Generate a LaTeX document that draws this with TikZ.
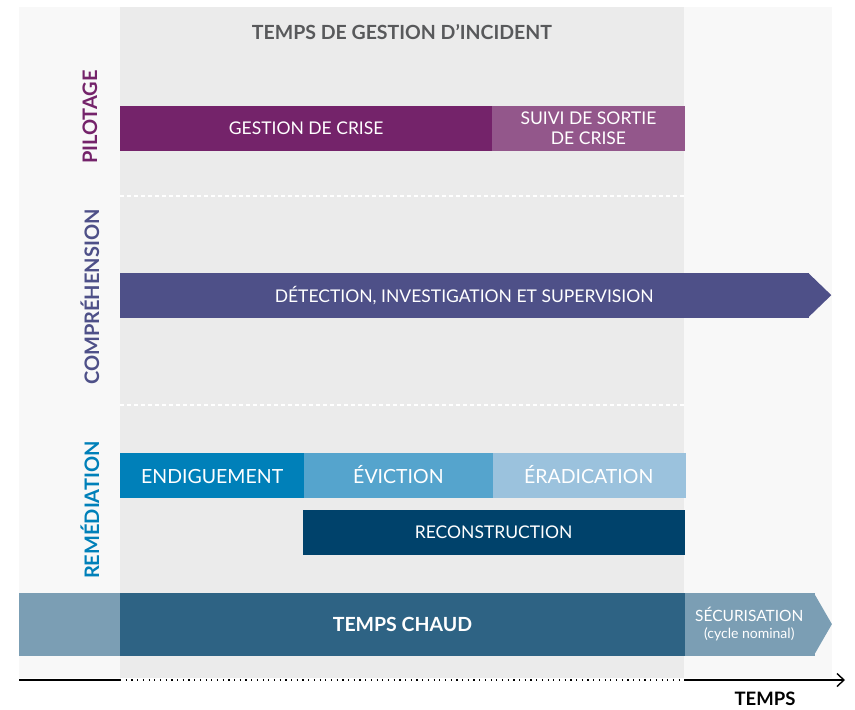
\documentclass[tikz,border=0pt]{standalone}
\usepackage{fontspec}
\setmainfont{Lato}
\usetikzlibrary{arrows.meta,positioning,calc}
\definecolor{cPage}{HTML}{F8F8F8}
\definecolor{cBand}{HTML}{EBEBEB}
\definecolor{cHead}{HTML}{58595B}
\definecolor{cPil}{HTML}{74236A}
\definecolor{cPilLt}{HTML}{93578B}
\definecolor{cComp}{HTML}{4E5088}
\definecolor{cRem}{HTML}{0080B9}
\definecolor{cRemMd}{HTML}{55A4CD}
\definecolor{cRemLt}{HTML}{9BC2DD}
\definecolor{cRemDk}{HTML}{00426B}
\definecolor{cHot}{HTML}{2E6384}
\definecolor{cHotLt}{HTML}{7B9EB4}
\tikzset{
  tone/.style={fill=#1, draw=#1, line width=0.3pt},
  bar/.style={rectangle, inner sep=0pt, anchor=north west, minimum height=44pt,
    align=center, text=white, font=\fontsize{17.5}{20}\selectfont},
  bigbar/.style={bar, font=\fontsize{19.5}{22}\selectfont, text height=18pt, text depth=1pt},
  hotbar/.style={bar, minimum height=62pt},
  lane/.style={rotate=90, inner sep=0pt, font=\fontsize{20}{22}\selectfont\bfseries},
  sep/.style={draw=white, line width=2pt, dash pattern=on 4pt off 3pt},
  axis/.style={draw=black, line width=1.4pt},
}

\begin{document}
\begin{tikzpicture}[x=1pt, y=-1pt]
    \useasboundingbox (0,0) rectangle (855,710);
    % background and incident window
    \fill[cPage] (19,7) rectangle (832,678);
    \fill[cBand] (120,7) rectangle (684,678);
    \node[text=cHead, font=\fontsize{19.5}{22}\selectfont\bfseries] (head) at (402,32) {TEMPS DE GESTION D’INCIDENT};

    % row labels
    \node[lane, text=cPil]  (pil)  at (90,117) {PILOTAGE};
    \node[lane, text=cComp] (comp) at (90,297) {COMPRÉHENSION};
    \node[lane, text=cRem]  (rem)  at (90,510) {REMÉDIATION};

    % pilotage
    \node[bar, tone=cPil, minimum width=372pt] (crise) at (120,106) {GESTION DE CRISE};
    \node[bar, tone=cPilLt, minimum width=192pt, right=0pt of crise] (sortie)
      {SUIVI DE SORTIE\\DE CRISE};
    \coordinate (s1a) at (120,196);
    \coordinate (s1b) at (684,196);
    \draw[sep] (s1a) -- (s1b);

    % comprehension
    \node[bar, tone=cComp, minimum width=688pt] (detect) at (120,273)
      {DÉTECTION, INVESTIGATION ET SUPERVISION};
    \fill[cComp] (detect.north east) -- ($(detect.east)+(23,0)$) -- (detect.south east) -- cycle;
    \coordinate (s2a) at (120,405);
    \coordinate (s2b) at (684,405);
    \draw[sep] (s2a) -- (s2b);

    % remediation
    \node[bigbar, tone=cRem, minimum width=184pt] (endig) at (120,453) {ENDIGUEMENT};
    \node[bigbar, tone=cRemMd, minimum width=188pt, right=0pt of endig] (evic) {ÉVICTION};
    \node[bigbar, tone=cRemLt, minimum width=192pt, right=0pt of evic] (erad) {ÉRADICATION};
    \node[bar, tone=cRemDk, minimum width=381pt] (recon) at (303,510) {RECONSTRUCTION};

    % temps chaud
    \node[hotbar, tone=cHotLt, minimum width=101pt] (avant) at (19,593) {};
    \node[hotbar, tone=cHot, minimum width=564pt, right=0pt of avant, font=\fontsize{19.5}{22}\selectfont\bfseries] (chaud) {TEMPS CHAUD};
    \node[hotbar, tone=cHotLt, minimum width=129pt, right=0pt of chaud, font=\fontsize{15.5}{17}\selectfont] (secu)
      {SÉCURISATION\\{\fontsize{14}{16}\selectfont(cycle nominal)}};
    \fill[cHotLt] (secu.north east) -- ($(secu.east)+(18,0)$) -- (secu.south east) -- cycle;

    % time axis
    \coordinate (t0) at (19,680);
    \coordinate (t1) at (120,680);
    \coordinate (t2) at (684,680);
    \coordinate (t3) at (845,680);
    \draw[axis] (t0) -- (t1);
    \draw[line width=1.2pt, dash pattern=on 1.2pt off 4.5pt] (t1) -- (t2);
    \draw[axis, -{Straight Barb[length=7pt, width=13pt]}] (t2) -- (t3);
    \node[font=\fontsize{18.5}{20}\selectfont\bfseries] (temps) at (765,699) {TEMPS};
\end{tikzpicture}
\end{document}
